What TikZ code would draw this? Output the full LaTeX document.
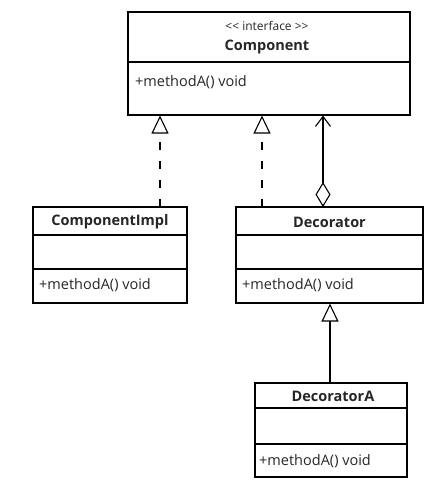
\documentclass[tikz,border=0pt]{standalone}
\usepackage{fontspec}
\setmainfont{Open Sans}
\usetikzlibrary{arrows.meta}
\begin{document}
\begin{tikzpicture}[x=1pt,y=-1pt,
  box/.style={draw, line width=1.1pt, rectangle, inner sep=0pt},
  sep/.style={line width=1.1pt},
  cname/.style={font=\fontsize{14.5}{16}\selectfont\bfseries, text=black!85, inner sep=0pt},
  meth/.style={font=\fontsize{14.5}{16}\selectfont, text=black!85, inner sep=0pt, anchor=west},
  stereo/.style={font=\fontsize{12}{14}\selectfont, text=black!85, inner sep=0pt},
  real/.style={line width=1.1pt, dash pattern=on 8pt off 11pt, -{Triangle[open, length=18pt, width=17pt]}},
  gen/.style={line width=1.1pt, -{Triangle[open, length=18pt, width=17pt]}},
  agg/.style={line width=1.1pt, {Diamond[open, length=25pt, width=15pt]}-{Straight Barb[length=10pt, width=15pt]}}
]
\useasboundingbox (0,0) rectangle (436,491);
% Component
\node[box, minimum width=282pt, minimum height=103pt] (comp) at (269,63.5) {};
\draw[sep] (comp.west |- 0,62) -- (comp.east |- 0,62);
\node[stereo] (compst) at (267,26) {<{}< interface >{}>};
\node[cname] (compn) at (267,47) {Component};
\node[meth] (compm) at (135,82) {+methodA() void};
% ComponentImpl
\node[box, minimum width=154pt, minimum height=96pt] (ci) at (110,255) {};
\draw[sep] (ci.west |- 0,235) -- (ci.east |- 0,235);
\draw[sep] (ci.west |- 0,269) -- (ci.east |- 0,269);
\node[cname] (cin) at (110,222) {ComponentImpl};
\node[meth] (cim) at (39,285) {+methodA() void};
% Decorator
\node[box, minimum width=187pt, minimum height=96pt] (dec) at (329.5,255) {};
\draw[sep] (dec.west |- 0,235) -- (dec.east |- 0,235);
\draw[sep] (dec.west |- 0,269) -- (dec.east |- 0,269);
\node[cname] (decn) at (329.5,222) {Decorator};
\node[meth] (decm) at (242,285) {+methodA() void};
% DecoratorA
\node[box, minimum width=152pt, minimum height=94pt] (deca) at (331,430) {};
\draw[sep] (deca.west |- 0,408) -- (deca.east |- 0,408);
\draw[sep] (deca.west |- 0,444) -- (deca.east |- 0,444);
\node[cname] (decan) at (333,396) {DecoratorA};
\node[meth] (decam) at (259,461) {+methodA() void};
% connectors
\coordinate (p1) at (160,207);
\coordinate (p2) at (262,207);
\coordinate (p3) at (323,207);
\coordinate (p4) at (330,383);
\draw[real] (p1) -- (p1 |- comp.south);
\draw[real] (p2) -- (p2 |- comp.south);
\draw[agg] (p3) -- (p3 |- comp.south);
\draw[gen] (p4) -- (p4 |- dec.south);
\end{tikzpicture}
\end{document}
